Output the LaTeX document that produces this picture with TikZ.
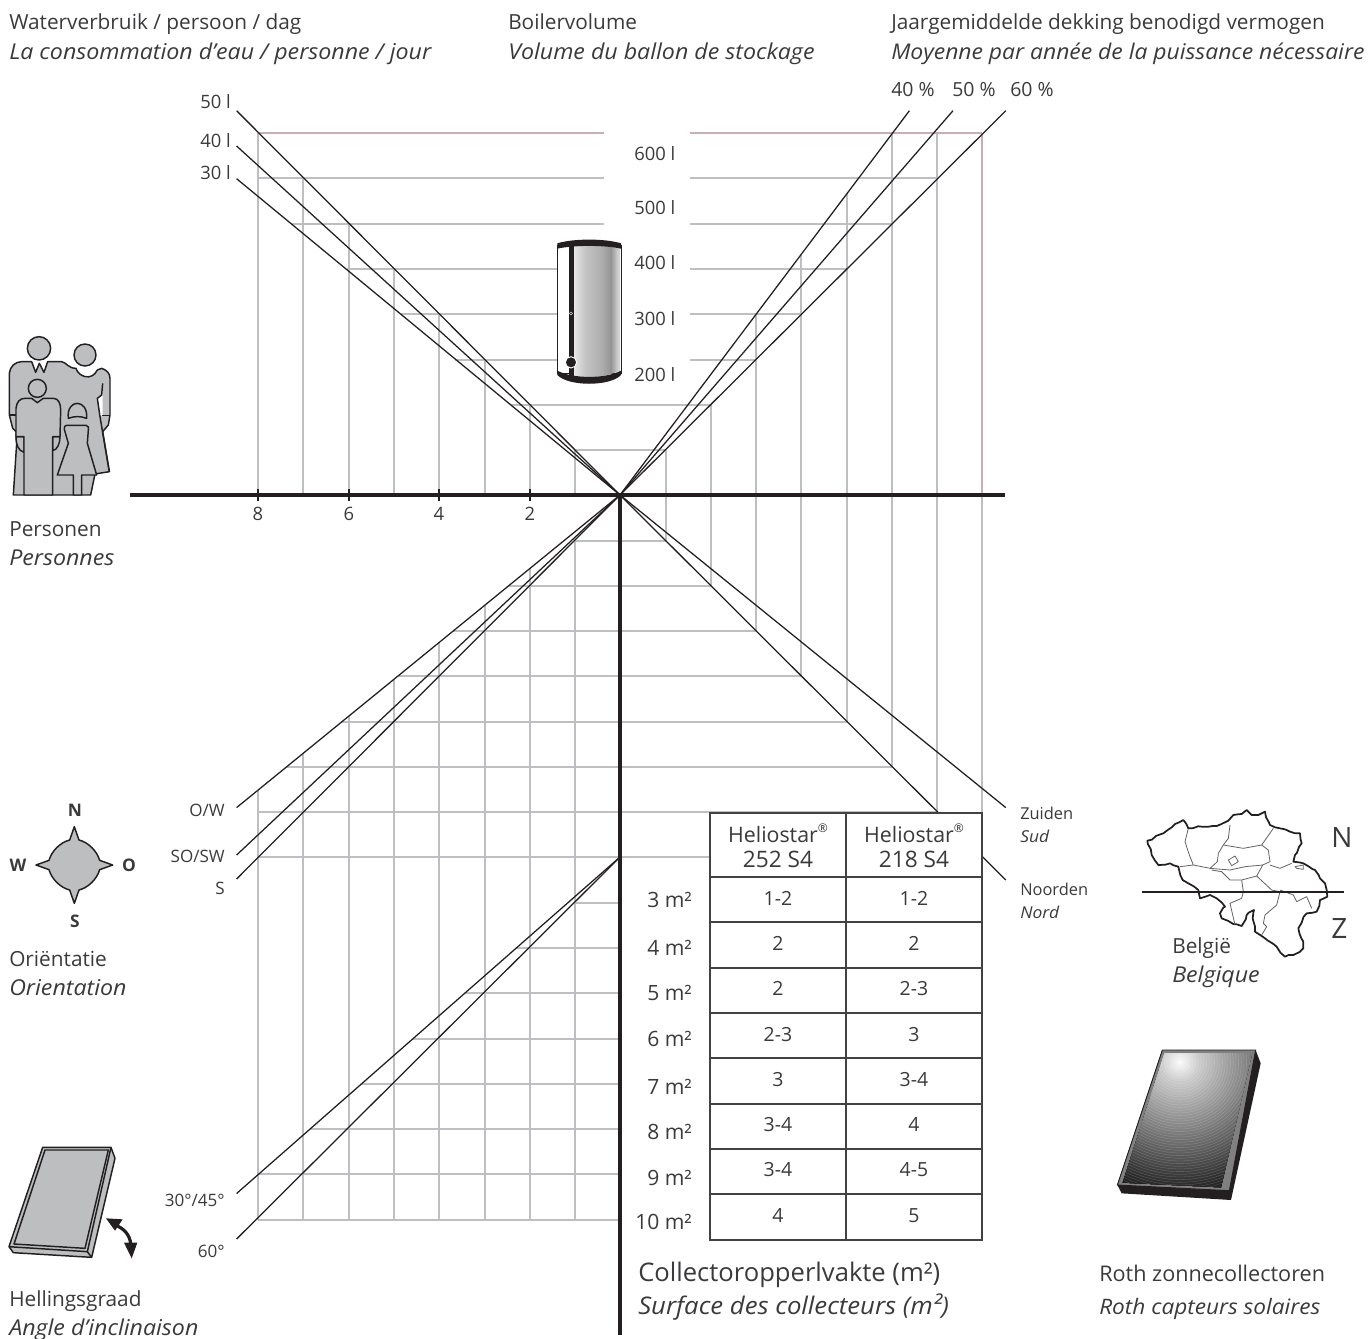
\documentclass[tikz,border=0pt]{standalone}
\usepackage{fontspec}
\setmainfont{Open Sans}[ItalicFeatures={FakeStretch=1.06}]
\usetikzlibrary{decorations.pathmorphing}
\definecolor{txt}{HTML}{3A393B}
\definecolor{ink}{HTML}{231F20}
\definecolor{gridc}{HTML}{BEBFC3}
\definecolor{pinkc}{HTML}{C9AEB3}
\definecolor{iconc}{HTML}{BCBEC0}
\newcommand{\myfs}[1]{\fontsize{#1}{#1}\selectfont}
\pgfdeclarehorizontalshading{tankshade}{100bp}{color(0bp)=(white!90!black); color(25bp)=(white!90!black); color(38bp)=(white!76!black); color(55bp)=(white!68!black); color(65bp)=(white!58!black); color(72bp)=(white!80!black); color(75bp)=(white!84!black); color(100bp)=(white!84!black)}
\tikzset{
  gridl/.style={draw=gridc,line width=1.5pt},
  pinkl/.style={draw=pinkc,line width=1.5pt},
  diag/.style={draw=ink,line width=0.95pt},
  axisl/.style={draw=ink,line width=2.7pt},
  tickl/.style={draw=ink,line width=1.8pt},
  tabl/.style={draw=ink!85!white,line width=1.1pt},
  icon/.style={draw=ink,fill=iconc,line width=1.1pt,line join=round},
  thintx/.style={inner sep=0pt,text=txt},
  big/.style={thintx,anchor=base west,font=\myfs{15.6}},
  bigit/.style={thintx,anchor=base west,font=\myfs{16.4}\itshape},
  mid/.style={thintx,font=\myfs{13.8}},
  small/.style={thintx,font=\myfs{12.8}},
  compl/.style={thintx,anchor=center,font=\myfs{13}\bfseries},
}
\begin{document}
\begin{tikzpicture}[x=0.75pt,y=-0.75pt]
\useasboundingbox (0,0) rectangle (1372,1339);
% hubs and free line ends
\coordinate (c) at (620,495);
\coordinate (c2) at (620,857);
\coordinate (l50) at (236.6,110.7);
\coordinate (l40) at (236.6,146);
\coordinate (l30) at (236.6,178.7);
\coordinate (p40) at (909.4,110.7);
\coordinate (p50) at (953,110.7);
\coordinate (p60) at (1005.8,110.7);
\coordinate (ow) at (236.6,807.6);
\coordinate (sosw) at (236.6,855);
\coordinate (south) at (236.6,879);
\coordinate (zuid) at (1005.8,807.6);
\coordinate (noord) at (1005.8,880);
\coordinate (a30) at (236.6,1193.5);
\coordinate (a60) at (236.6,1239);
\coordinate (axl) at (130,495);
\coordinate (axr) at (1005,495);
\coordinate (axb) at (620,1335);
% vertical grid
\foreach \x/\t in {303/178,349/224,394/269,439/314,485/360,530/405,575/450,258/133,666/450,711/405,756/314,801/254,847/193,892/133,937/133}
  \draw[gridl] (\x,\t) -- (\x,495);
\draw[pinkl] (982,133) -- (982,495);
\foreach \x/\b in {666/541,711/586,756/631,801/676,847/722,892/767,937/812,982/857}
  \draw[gridl] (\x,495) -- (\x,\b);
\foreach \x/\t in {258/790,303/753,349/716,394/679,439/642,485/605,530/568,575/541}
  \draw[gridl] (\x,\t) -- (\x,1220);
% horizontal grid
\draw[pinkl] (258,133) -- (604,133);
\draw[pinkl] (690,133) -- (982,133);
\foreach \y/\a/\b in {178/258/604,224/291/604,269/347/557,314/401/557,360/455/557}
  \draw[gridl] (\a,\y) -- (\b,\y);
\foreach \y/\b in {178/937,224/892,269/847,314/801,360/756}
  \draw[gridl] (690,\y) -- (\b,\y);
\foreach \y/\a/\b in {405/511/711,450/575/666,541/575/666,586/508/711,631/453/756,676/398/801,722/341/847,767/286/892,812/258/937,857/258/710}
  \draw[gridl] (\a,\y) -- (\b,\y);
\foreach \y/\a in {903/575,948/516,993/465,1039/413,1084/361,1129/310,1174/259,1220/258}
  \draw[gridl] (\a,\y) -- (620,\y);
% diagonals
\foreach \e in {l50,l40,l30,p40,p50,p60,ow,sosw,south,zuid,noord}
  \draw[diag] (c) -- (\e);
\foreach \e in {a30,a60}
  \draw[diag] (c2) -- (\e);
% axes
\draw[axisl] (axl) -- (axr);
\draw[axisl] (c) -- (axb);
\foreach \x/\n/\lab in {258/tA/8,349/tB/6,439/tC/4,530/tD/2}{
  \draw[tickl] (\x,489) -- (\x,501);
  \node[mid,anchor=base] (\n) at (\x,520) {\lab};
}
% table
\fill[white] (710,813) rectangle (982,1240);
\draw[tabl] (710,813) rectangle (982,1240);
\draw[tabl] (846,813) -- (846,1240);
\foreach \y in {877,922,968,1013,1058,1104,1149,1194}
  \draw[tabl] (710,\y) -- (982,\y);
\node[thintx,anchor=base,font=\myfs{16}] (hA) at (778,842) {Heliostar\raisebox{0.45em}{\myfs{9}®}};
\node[thintx,anchor=base,font=\myfs{16}] (hB) at (914,842) {Heliostar\raisebox{0.45em}{\myfs{9}®}};
\node[thintx,anchor=base,font=\myfs{17}] (hC) at (778,867) {252 S4};
\node[thintx,anchor=base,font=\myfs{17}] (hD) at (914,867) {218 S4};
\foreach \y/\a/\b/\n in {905/1-2/1-2/a,950/2/2/b,995/2/2-3/c,1041/2-3/3/d,1086/3/3-4/e,1131/3-4/4/f,1176/3-4/4-5/g,1222/4/5/h}{
  \node[thintx,font=\myfs{14.6},anchor=base] (r\n1) at (778,\y) {\a};
  \node[thintx,font=\myfs{14.6},anchor=base] (r\n2) at (914,\y) {\b};
}
\foreach \y/\m/\n in {907/3/a,955/4/b,1000/5/c,1046/6/d,1094/7/e,1139/8/f,1185/9/g,1229/10/h}
  \node[thintx,anchor=base east,font=\myfs{15.8}] (m\n) at (692,\y) {\m\ m²};
% headers
\node[big] (h1) at (9,29) {Waterverbruik / persoon / dag};
\node[bigit] (h2) at (9,59) {La consommation d'eau / personne / jour};
\node[big] (h3) at (508,29) {Boilervolume};
\node[bigit] (h4) at (508,59) {Volume du ballon de stockage};
\node[big] (h5) at (891,29) {Jaargemiddelde dekking benodigd vermogen};
\node[bigit,font=\myfs{16.2}\itshape] (h6) at (891,59) {Moyenne par année de la puissance nécessaire};
\foreach \x/\l/\n in {891/40/pa,952/50/pb,1010/60/pc}
  \node[thintx,font=\myfs{14.6},anchor=base west] (\n) at (\x,96) {\l\ \%};
\foreach \y/\l/\n in {108/50/wa,147/40/wb,179/30/wc}
  \node[mid,anchor=base east] (\n) at (231,\y) {\l\ l};
\foreach \y/\l/\n in {160/600/va,214/500/vb,269/400/vc,325/300/vd,381/200/ve}
  \node[mid,anchor=base west] (\n) at (634,\y) {\l\ l};
% side labels
\node[big] (pe1) at (9,536) {Personen};
\node[bigit] (pe2) at (9,565) {Personnes};
\node[big] (or1) at (9,966) {Oriëntatie};
\node[bigit] (or2) at (9,995) {Orientation};
\node[big] (he1) at (9,1306) {Hellingsgraad};
\node[bigit] (he2) at (9,1335) {Angle d’inclinaison};
\node[small,anchor=base east] (d1) at (225,816) {O/W};
\node[small,anchor=base east] (d2) at (225,862) {SO/SW};
\node[small,anchor=base east] (d3) at (225,894) {S};
\node[small,anchor=base east] (d4) at (225,1206) {30°/45°};
\node[small,anchor=base east] (d5) at (225,1257) {60°};
\node[thintx,font=\myfs{12.3},anchor=base west] (z1) at (1020,819) {Zuiden};
\node[thintx,font=\myfs{12.3}\itshape,anchor=base west] (z2) at (1020,842) {Sud};
\node[thintx,font=\myfs{12.3},anchor=base west] (z3) at (1020,895) {Noorden};
\node[thintx,font=\myfs{12.3}\itshape,anchor=base west] (z4) at (1020,918) {Nord};
\node[big] (b1) at (1172,953) {België};
\node[bigit] (b2) at (1172,982) {Belgique};
\node[thintx,anchor=base west,font=\myfs{21}] (bn) at (1331,847) {N};
\node[thintx,anchor=base west,font=\myfs{21}] (bz) at (1331,938) {Z};
\node[thintx,anchor=base west,font=\myfs{19.2}] (co1) at (638,1281) {Collectoropperlvakte (m²)};
\node[thintx,anchor=base west,font=\myfs{18.2}\itshape] (co2) at (638,1314) {Surface des collecteurs (m²)};
\node[thintx,anchor=base west,font=\myfs{16.2}] (ro1) at (1099,1281) {Roth zonnecollectoren};
\node[thintx,anchor=base west,font=\myfs{16}\itshape] (ro2) at (1099,1314) {Roth capteurs solaires};
% compass
\node[compl] (cn) at (75,810) {N};
\node[compl] (cw) at (18,865) {W};
\node[compl] (co) at (129,865) {O};
\node[compl] (cs) at (75,921) {S};
\begin{scope}[shift={(0,790)},x=0.25pt,y=-0.25pt]
\draw[icon] (223,110) -- (237,150) .. controls (265,157) and (291,183) .. (299,211) -- (338,225) -- (299,239) .. controls (291,267) and (265,293) .. (237,300) -- (223,340) -- (209,300) .. controls (181,293) and (155,267) .. (147,239) -- (108,225) -- (147,211) .. controls (155,183) and (181,157) .. (209,150) -- cycle;
\end{scope}
% family
\begin{scope}[shift={(0,320)},x=0.25pt,y=-0.25pt]
\draw[icon] (40,525) -- (50,370) -- (48,335) -- (38,325) -- (28,285) -- (28,160) .. controls (30,140) and (45,125) .. (65,125) -- (95,125) -- (107,157) -- (118,130) -- (132,157) -- (143,125) -- (185,125) .. controls (200,128) and (205,145) .. (228,145) .. controls (235,170) and (275,185) .. (292,150) -- (305,145) .. controls (320,150) and (330,160) .. (330,175) -- (330,285) -- (325,315) -- (308,335) -- (328,455) -- (285,462) -- (272,525) -- cycle;
\fill[white] (308,190) -- (305,225) -- (292,235) -- (300,288) -- (308,288) -- cycle;
\draw[icon,fill=none] (308,190) -- (305,225) -- (292,235) -- (300,290) -- (328,455);
\draw[icon,fill=none] (28,285) -- (50,285);
\draw[icon,fill=none] (305,287) -- (330,287);
\draw[icon] (117,85) circle (35);
\draw[icon] (255,105) circle (33);
\draw[icon] (48,350) -- (72,350) -- (72,397) .. controls (55,392) and (48,375) .. (48,350) -- cycle;
\draw[icon] (180,350) -- (158,350) -- (158,392) .. controls (172,390) and (180,370) .. (180,350) -- cycle;
\draw[icon] (72,525) -- (72,350) -- (48,350) -- (48,265) .. controls (50,245) and (60,235) .. (75,235) -- (95,235) -- (112,248) -- (130,235) -- (160,235) .. controls (175,235) and (182,250) .. (182,270) -- (180,350) -- (158,350) -- (158,525) -- cycle;
\draw[icon] (112,205) circle (27);
\draw[icon] (205,295) .. controls (198,235) and (265,235) .. (260,295) .. controls (240,288) and (225,288) .. (205,295) -- cycle;
\draw[icon] (200,316) -- (258,316) .. controls (265,318) and (267,322) .. (265,330) -- (262,370) -- (290,465) -- (245,465) -- (245,525) -- (220,525) -- (220,465) -- (172,465) -- (205,370) -- (193,328) .. controls (191,320) and (195,316) .. (200,316) -- cycle;
\end{scope}
% tank
\begin{scope}[shift={(540,225)},x=0.25pt,y=-0.25pt]
\filldraw[fill=white,draw=ink,line width=0.6pt] (52,60) rectangle (243,445);
\path[shading=tankshade] (103,62) -- (240,62) -- (240,437) .. controls (200,455) and (145,460) .. (103,458) -- cycle;
\fill[ink] (87,62) rectangle (103,458);
\fill[ink] (52,55) .. controls (100,40) and (195,40) .. (243,55) -- (243,71) .. controls (195,60) and (100,60) .. (52,71) -- cycle;
\fill[ink] (52,437) .. controls (100,462) and (195,462) .. (243,437) -- (243,450) .. controls (210,485) and (85,485) .. (52,450) -- cycle;
\filldraw[fill=ink,draw=white,line width=0.7pt] (93,412) circle (17);
\filldraw[fill=ink,draw=white,line width=0.3pt] (93,265) circle (4.5);
\end{scope}
% sloped panel icon
\begin{scope}[shift={(0,1130)},x=0.25pt,y=-0.25pt]
\draw[icon] (128,52) -- (333,52) -- (345,85) -- (275,382) -- (40,368) -- (27,350) -- cycle;
\draw[icon,fill=none] (333,52) -- (262,365) -- (27,350);
\draw[icon,fill=none] (262,365) -- (275,382);
\draw[icon,fill=none] (135,60) -- (325,60) -- (255,355) -- (42,342) -- cycle;
\draw[ink,line width=2.4pt] (345,285) .. controls (372,295) and (390,315) .. (392,342);
\fill[ink] (318,265) -- (368,268) -- (345,302) -- cycle;
\fill[ink] (395,385) -- (372,338) -- (412,338) -- cycle;
\end{scope}
% large collector
\begin{scope}[shift={(1100,1030)},x=0.25pt,y=-0.25pt]
\fill[ink] (467,60) -- (482,100) -- (393,510) -- (65,490) -- (52,465) -- (187,60) -- cycle;
\filldraw[fill=black!50!white,draw=ink,line width=0.7pt] (187,60) -- (467,60) -- (388,482) -- (52,465) -- cycle;
\begin{scope}
\clip (194,69) -- (456,69) -- (363,472) -- (68,458) -- cycle;
\fill[black!90!white] (50,50) rectangle (480,490);
\foreach \r in {440,432,...,8}{
  \pgfmathsetmacro{\p}{\r<60 ? \r*0.33 : min(92,20+(\r-60)*0.2)}
  \fill[black!\p!white] (240,97) circle (\r);
  \draw[white,opacity=0.22,line width=0.25pt] (240,97) circle (\r);
}
\end{scope}
\end{scope}
% Belgium
\begin{scope}[shift={(1130,800)},x=0.25pt,y=-0.25pt]
\draw[draw=ink,line width=1.3pt,line join=round,fill=white,decorate,decoration={random steps,segment length=4pt,amplitude=0.8pt}] (52,122) -- (100,100) -- (135,72) -- (160,60) -- (175,85) -- (215,80) -- (260,78) -- (295,62) -- (310,45) -- (335,42) -- (350,30) -- (365,45) -- (385,45) -- (405,35) -- (420,75) -- (450,85) -- (480,95) -- (510,100) -- (515,130) -- (495,165) -- (490,185) -- (520,190) -- (555,210) -- (570,235) -- (585,250) -- (590,270) -- (592,290) -- (570,300) -- (560,335) -- (530,340) -- (505,385) -- (520,425) -- (520,445) -- (490,465) -- (465,470) -- (440,440) -- (405,415) -- (375,395) -- (368,355) -- (372,330) -- (350,345) -- (335,378) -- (310,372) -- (275,355) -- (270,340) -- (285,320) -- (260,295) -- (240,285) -- (210,295) -- (205,270) -- (175,250) -- (158,240) -- (145,200) -- (120,190) -- (85,195) -- (65,165) -- cycle;
\begin{scope}[draw=ink!70!white,line width=0.6pt,line join=round,decorate,decoration={random steps,segment length=4pt,amplitude=0.5pt}]
\draw (175,85) -- (165,125) -- (178,165) -- (190,195) -- (150,200);
\draw (300,75) -- (295,115) -- (280,135) -- (265,160) -- (262,185) -- (240,205) -- (190,195);
\draw (280,135) -- (340,145) -- (395,135) -- (430,85);
\draw (395,135) -- (415,150) -- (420,185) -- (398,195) -- (345,200) -- (300,210) -- (240,205);
\draw (420,195) -- (450,205) -- (485,190);
\draw (245,210) -- (275,215) -- (300,240) -- (335,240) -- (380,228) -- (398,195);
\draw (335,240) -- (340,275) -- (335,295) -- (300,310) -- (315,375);
\draw (380,228) -- (425,270) -- (450,275) -- (440,315) -- (405,345) -- (400,370) -- (410,380) -- (395,405);
\draw (450,270) -- (490,285) -- (500,305) -- (530,290) -- (545,325);
\draw (295,180) -- (315,168) -- (325,185) -- (305,197) -- cycle;
\draw (495,200) -- (520,195) -- (520,208) -- (500,205) -- cycle;
\end{scope}
\end{scope}
\draw[ink,line width=1.9pt] (1142,892) -- (1344,892);
\end{tikzpicture}
\end{document}
